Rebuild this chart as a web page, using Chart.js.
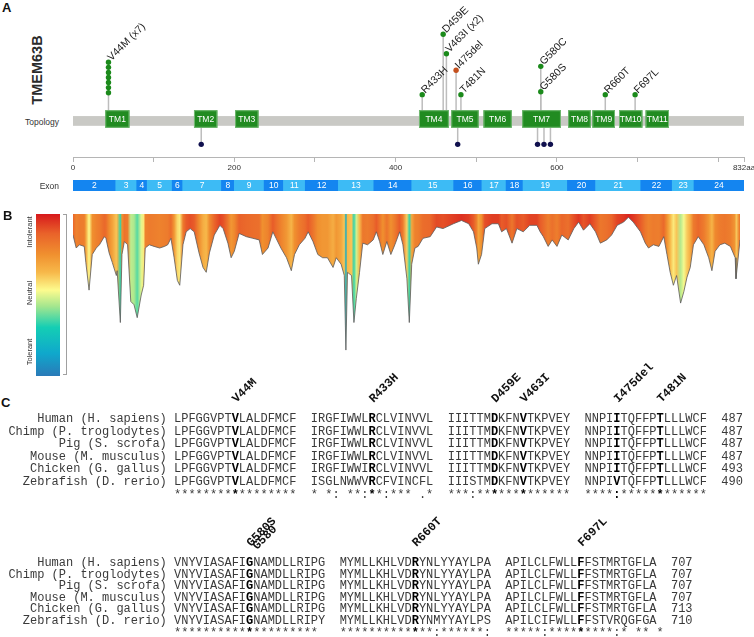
<!DOCTYPE html>
<html>
<head>
<meta charset="utf-8">
<script src="https://cdn.jsdelivr.net/npm/chart.js@4.4.1/dist/chart.umd.min.js"></script>
<style>
  body { margin: 0; background: #fff; }
  #fig { position: relative; width: 754px; height: 637px; overflow: hidden; font-family: "Liberation Sans", Arial, sans-serif; color: #333; }
  #fig > * { position: absolute; }
  .panel { font-weight: bold; font-size: 13px; color: #111; }
  .side { font-size: 8.5px; width: 59px; text-align: right; left: 0; }
  .vlab { width: 60px; left: 0; text-align: center; font-size: 7.5px; line-height: 10px; transform: rotate(-90deg); }
  .aln { font-family: "Liberation Mono", "Courier New", monospace; font-size: 12px; line-height: 12px; white-space: pre; color: #3a3a3a; }
  .aln b { color: #000; }
</style>
</head>
<body>
<div id="fig">
  <div class="panel" style="left:2px;top:0px">A</div>
  <div style="left:-3px;top:62px;width:80px;text-align:center;font-weight:bold;font-size:14.5px;line-height:16px;color:#2a2a2a;transform:rotate(-90deg)">TMEM63B</div>
  <div class="side" style="top:117px">Topology</div>
  <canvas id="topo" width="754" height="178" style="left:0;top:0"></canvas>
  <canvas id="exon" width="754" height="20" style="left:0;top:176px"></canvas>
  <div class="side" style="top:181px">Exon</div>

  <div class="panel" style="left:3px;top:208px">B</div>
  <div id="cbar" style="left:36px;top:214px;width:24px;height:162px"></div>
  <div style="left:63px;top:214px;width:3px;height:159px;border:1.5px solid #a0a0a0;border-left:none"></div>
  <div class="vlab" style="top:227px">Intolerant</div>
  <div class="vlab" style="top:288px">Neutral</div>
  <div class="vlab" style="top:347px">Tolerant</div>
  <canvas id="tol" width="754" height="180" style="left:0;top:205px"></canvas>

  <div class="panel" style="left:1px;top:395px">C</div>
  <canvas id="mlab" width="754" height="280" style="left:0;top:357px"></canvas>
</div>
<script>
// A: topology
const geneLength = 832;
const tmNames = ['TM1', 'TM2', 'TM3', 'TM4', 'TM5', 'TM6', 'TM7', 'TM8', 'TM9', 'TM10', 'TM11'];
const tmStart = [40, 150, 201, 429, 469, 509, 557, 614, 644, 677, 710];
const tmEnd = [70, 179, 230, 466, 503, 544, 605, 642, 672, 706, 739];

const mutLabels = ['V44M (x7)', 'R433H', 'D459E', 'V463I (x2)', 'I475del', 'T481N', 'G580C', 'G580S', 'R660T', 'F697L'];
const mutPos = [44, 433, 459, 463, 475, 481, 580, 580, 660, 697];
const mutHeight = [29, 27, 89, 69, 52, 27, 56, 30, 27, 27];
const mutDots = [7, 1, 1, 1, 1, 1, 1, 1, 1, 1];
const mutKind = ['missense', 'missense', 'missense', 'missense', 'inframe', 'missense', 'missense', 'missense', 'missense', 'missense'];

const lowPos = [159, 477, 576, 584, 592];
const lowHeight = [-24, -24, -24, -24, -24];

const axisTicks = [0, 100, 200, 300, 400, 500, 600, 700, 800, 832];
const axisLabels = ['0', '', '200', '', '400', '', '600', '', '', '832aa'];

const exonNames = ['2', '3', '4', '5', '6', '7', '8', '9', '10', '11', '12', '13', '14', '15', '16', '17', '18', '19', '20', '21', '22', '23', '24'];
const exonBounds = [0, 53, 79, 92, 123, 136, 184, 200, 237, 261, 288, 329, 373, 420, 472, 507, 537, 558, 613, 648, 704, 743, 770, 832];

// B: tolerance landscape (0 = intolerant, 1 = tolerant)
const tolPos = [
  1, 5, 9, 15, 17, 21, 25, 30, 34, 40,
  42, 46, 50, 55, 56, 60, 62, 65, 69, 73,
  77, 81, 86, 89, 91, 96, 102, 109, 115, 119,
  123, 127, 131, 134, 138, 142, 147, 152, 158, 163,
  167, 171, 177, 184, 188, 194, 198, 202, 208, 217,
  225, 233, 237, 244, 250, 254, 260, 267, 273, 277,
  283, 290, 294, 300, 306, 312, 318, 325, 329, 335,
  339, 341, 343, 348, 351, 354, 358, 362, 368, 375,
  379, 383, 387, 392, 397, 402, 408, 412, 417, 420,
  423, 427, 431, 437, 446, 454, 462, 475, 485, 494,
  500, 504, 506, 510, 514, 523, 531, 535, 541, 548,
  554, 562, 570, 579, 583, 587, 593, 598, 604, 610,
  618, 625, 631, 637, 645, 652, 658, 666, 672, 679,
  687, 693, 699, 708, 714, 718, 724, 731, 737, 741,
  745, 749, 753, 758, 762, 766, 770, 774, 780, 787,
  793, 797, 801, 807, 813, 820, 826, 827, 831, 832
];
const tolScore = [
  .13, .21, .19, .20, .30, .47, .25, .21, .19, .14,
  .15, .24, .30, .38, .35, .67, .25, .17, .19, .54,
  .56, .64, .50, .44, .21, .19, .20, .21, .20, .19,
  .15, .27, .41, .44, .19, .11, .09, .11, .24, .33,
  .36, .24, .13, .07, .09, .18, .27, .23, .12, .14,
  .15, .16, .25, .21, .11, .15, .21, .27, .35, .25,
  .19, .15, .11, .17, .25, .27, .27, .33, .27, .31,
  .38, .84, .36, .38, .67, .52, .36, .18, .19, .16,
  .11, .17, .25, .17, .25, .19, .11, .19, .40, .67,
  .31, .21, .20, .15, .14, .08, .09, .06, .04, .06,
  .11, .21, .31, .25, .09, .06, .06, .11, .09, .18,
  .09, .11, .07, .07, .11, .14, .20, .16, .20, .13,
  .16, .09, .05, .10, .06, .11, .18, .16, .13, .07,
  .05, .02, .05, .11, .18, .21, .19, .20, .14, .25,
  .36, .44, .38, .55, .48, .39, .33, .19, .14, .19,
  .27, .35, .23, .19, .18, .20, .27, .40, .21, .16
];

// C: alignment
const species = ['Human (H. sapiens)', 'Chimp (P. troglodytes)', 'Pig (S. scrofa)', 'Mouse (M. musculus)', 'Chicken (G. gallus)', 'Zebrafish (D. rerio)'];
const seqTop = [
  'LPFGGVPTVLALDFMCF IRGFIWWLRCLVINVVL IIITTMDKFNVTKPVEY NNPIITQFFPTLLLWCF',
  'LPFGGVPTVLALDFMCF IRGFIWWLRCLVINVVL IIITTMDKFNVTKPVEY NNPIITQFFPTLLLWCF',
  'LPFGGVPTVLALDFMCF IRGFIWWLRCLVINVVL IIITTMDKFNVTKPVEY NNPIITQFFPTLLLWCF',
  'LPFGGVPTVLALDFMCF IRGFIWWLRCLVINVVL IIITTMDKFNVTKPVEY NNPIITQFFPTLLLWCF',
  'LPFGGVPTVLALDFMCF IRGFIWWIRCLVINVVL IIITTMDKFNVTKPVEY NNPIITQFFPTLLLWCF',
  'LPFGGVPTVLALDFMCF ISGLNWWVRCFVINCFL IIISTMDKFNVTKPVEY NNPIVTQFFPTLLLWCF'
];
const endTop = [487, 487, 487, 487, 493, 490];
const consTop = ['*****************', '* *: **:**:*** .*', '***:*************', '****:************'];
const boldTop = [[0, 8], [1, 8], [2, 6], [2, 10], [3, 4], [3, 10]];
const labTop = ['V44M', 'R433H', 'D459E', 'V463I', 'I475del', 'T481N'];

const seqBot = [
  'VNYVIASAFIGNAMDLLRIPG MYMLLKHLVDRYNLYYAYLPA APILCLFWLLFFSTMRTGFLA',
  'VNYVIASAFIGNAMDLLRIPG MYMLLKHLVDRYNLYYAYLPA APILCLFWLLFFSTMRTGFLA',
  'VNYVIASAFIGNAMDLLRIPG MYMLLKHLVDRYNLYYAYLPA APILCLFWLLFFSTMRTGFLA',
  'VNYVIASAFIGNAMDLLRIPG MYMLLKHLVDRYNLYYAYLPA APILCLFWLLFFSTMRTGFLA',
  'VNYVIASAFIGNAMDLLRIPG MYMLLKHLVDRYNLYYAYLPA APILCLFWLLFFSTMRTGFLA',
  'VNYVIASAFIGNAMDLLRIPY MYMLLKHLVDRYNMYYAYLPS APILCIFWLLFFSTVRQGFGA'
];
const endBot = [707, 707, 707, 707, 713, 710];
const consBot = ['******************** ', '*************:******:', '*****:*********:* ** *'];
const boldBot = [[0, 10], [1, 10], [2, 10]];
const labBot = ['G580S', 'G580', 'R660T', 'F697L'];
const labBotAt = [[0, 10], [0, 10], [1, 10], [2, 10]];

// colour scale of the tolerance landscape
const cmapStops = [[0, '#d7191c'], [0.12, '#e9622a'], [0.25, '#f0902f'], [0.36, '#f7b84a'], [0.47, '#fdfb8e'], [0.57, '#a4e68e'], [0.7, '#14ceb4'], [0.86, '#0fa8cc'], [1, '#2a7ab8']];
const hex = c => [1, 3, 5].map(i => parseInt(c.slice(i, i + 2), 16));
function cmap(v) {
  v = Math.max(0, Math.min(1, v));
  for (let i = 1; i < cmapStops.length; i++) {
    const [t1, c1] = cmapStops[i];
    if (v <= t1) {
      const [t0, c0] = cmapStops[i - 1];
      const f = (v - t0) / (t1 - t0), a = hex(c0), b = hex(c1);
      return 'rgb(' + a.map((q, k) => Math.round(q + (b[k] - q) * f)).join(',') + ')';
    }
  }
  return cmapStops[cmapStops.length - 1][1];
}

const font = '"Liberation Sans", Arial, sans-serif';
const kindColor = { missense: '#1b8a1b', inframe: '#c4501e' };
const stackGap = 5.2;

const upPts = [], upCol = [];
mutPos.forEach((p, i) => {
  for (let k = 0; k < mutDots[i]; k++) {
    upPts.push({ x: p, y: mutHeight[i] + k * stackGap });
    upCol.push(kindColor[mutKind[i]]);
  }
});

const topologyPlugin = {
  id: 'topology',
  beforeDatasetsDraw(chart) {
    const { ctx, scales: { x, y } } = chart;
    ctx.save();
    ctx.strokeStyle = '#bdbdbd';
    ctx.lineWidth = 1.5;
    const stem = (p, h) => {
      ctx.beginPath();
      ctx.moveTo(x.getPixelForValue(p), y.getPixelForValue(0));
      ctx.lineTo(x.getPixelForValue(p), y.getPixelForValue(h));
      ctx.stroke();
    };
    mutPos.forEach((p, i) => stem(p, mutHeight[i] + (mutDots[i] - 1) * stackGap));
    lowPos.forEach((p, i) => stem(p, lowHeight[i]));

    const x0 = x.getPixelForValue(0), x1 = x.getPixelForValue(geneLength);
    ctx.fillStyle = '#c9c9c5';
    ctx.fillRect(x0, y.getPixelForValue(5), x1 - x0, y.getPixelForValue(-5) - y.getPixelForValue(5));

    ctx.font = '8.5px ' + font;
    ctx.textAlign = 'center';
    ctx.textBaseline = 'middle';
    tmNames.forEach((n, i) => {
      const a = x.getPixelForValue(tmStart[i]), b = x.getPixelForValue(tmEnd[i]);
      const t = y.getPixelForValue(11), btm = y.getPixelForValue(-7);
      ctx.fillStyle = '#218b21';
      ctx.fillRect(a, t, b - a, btm - t);
      ctx.strokeStyle = '#72b972';
      ctx.lineWidth = 1;
      ctx.strokeRect(a + 0.5, t + 0.5, b - a - 1, btm - t - 1);
      ctx.fillStyle = '#fff';
      ctx.fillText(n, (a + b) / 2, (t + btm) / 2 + 0.5);
    });
    ctx.restore();
  },
  afterDatasetsDraw(chart) {
    const { ctx, scales: { x, y } } = chart;
    ctx.save();
    ctx.font = '10.5px ' + font;
    ctx.fillStyle = '#222';
    ctx.textAlign = 'left';
    ctx.textBaseline = 'alphabetic';
    mutLabels.forEach((lab, i) => {
      const top = mutHeight[i] + (mutDots[i] - 1) * stackGap;
      ctx.save();
      ctx.translate(x.getPixelForValue(mutPos[i]) + 3, y.getPixelForValue(top) - 1);
      ctx.rotate(-Math.PI / 4);
      ctx.fillText(lab, 0, 0);
      ctx.restore();
    });
    ctx.restore();
  }
};

new Chart(document.getElementById('topo'), {
  type: 'scatter',
  data: {
    datasets: [
      { data: upPts, pointBackgroundColor: upCol, pointBorderWidth: 0, pointRadius: 2.7 },
      { data: lowPos.map((p, i) => ({ x: p, y: lowHeight[i] })), pointBackgroundColor: '#10104e', pointBorderWidth: 0, pointRadius: 2.7 }
    ]
  },
  options: {
    responsive: false, animation: false, devicePixelRatio: 1, events: [],
    layout: { padding: { left: 73, right: 10, top: 0, bottom: 1 } },
    scales: {
      x: {
        type: 'linear', min: 0, max: geneLength, position: 'bottom',
        afterBuildTicks: s => { s.ticks = axisTicks.map(v => ({ value: v })); },
        afterFit: s => { s.height = 20; s.paddingLeft = 0; s.paddingRight = 0; },
        ticks: { autoSkip: false, maxRotation: 0, padding: 1, color: '#333', font: { size: 8, family: font }, callback: (v, i) => axisLabels[i] },
        grid: { drawOnChartArea: false, tickLength: 5, color: '#b5b5b5' },
        border: { color: '#b5b5b5', width: 1 }
      },
      y: { display: false, min: -37, max: 120 }
    },
    plugins: { legend: { display: false }, tooltip: { enabled: false } }
  },
  plugins: [topologyPlugin]
});

// exon track
const exonText = {
  id: 'exonText',
  afterDatasetsDraw(chart) {
    const { ctx } = chart;
    ctx.save();
    ctx.fillStyle = '#fff';
    ctx.font = '8.5px ' + font;
    ctx.textAlign = 'center';
    ctx.textBaseline = 'middle';
    chart.getDatasetMeta(0).data.forEach((bar, i) => {
      const { x, base, y } = bar.getProps(['x', 'base', 'y'], true);
      ctx.fillText(exonNames[i], (x + base) / 2, y + 0.5);
    });
    ctx.restore();
  }
};

new Chart(document.getElementById('exon'), {
  type: 'bar',
  data: {
    labels: ['Exon'],
    datasets: [{
      data: exonNames.map((n, i) => ({ x: [exonBounds[i], exonBounds[i + 1]], y: 'Exon' })),
      backgroundColor: exonNames.map((n, i) => i % 2 ? '#3dbbf5' : '#1485f0'),
      borderWidth: 0, barPercentage: 1, categoryPercentage: 1, grouped: false
    }]
  },
  options: {
    indexAxis: 'y', responsive: false, animation: false, devicePixelRatio: 1, events: [],
    layout: { padding: { left: 73, right: 10, top: 4, bottom: 5 } },
    scales: { x: { type: 'linear', min: 0, max: geneLength, display: false }, y: { display: false } },
    plugins: { legend: { display: false }, tooltip: { enabled: false } }
  },
  plugins: [exonText]
});

// B
document.getElementById('cbar').style.background =
  'linear-gradient(to bottom,' + cmapStops.map(([t, c]) => c + ' ' + (t * 100) + '%').join(',') + ')';

function tolFill(c) {
  const chart = c.chart, a = chart.chartArea;
  if (!a) return null;
  const xs = chart.scales.x;
  const g = chart.ctx.createLinearGradient(a.left, 0, a.right, 0);
  tolPos.forEach((p, i) => {
    const t = (xs.getPixelForValue(p) - a.left) / (a.right - a.left);
    g.addColorStop(Math.max(0, Math.min(1, t)), cmap(tolScore[i]));
  });
  return g;
}

new Chart(document.getElementById('tol'), {
  type: 'line',
  data: {
    datasets: [{
      data: tolPos.map((p, i) => ({ x: p, y: tolScore[i] })),
      borderColor: '#5a5a5a', borderWidth: 0.8, pointRadius: 0, tension: 0,
      fill: { value: 0 }, backgroundColor: tolFill
    }]
  },
  options: {
    responsive: false, animation: false, devicePixelRatio: 1, events: [],
    layout: { padding: { left: 73, right: 14, top: 9, bottom: 9 } },
    scales: {
      x: { type: 'linear', min: 1, max: geneLength, display: false },
      y: { min: 0, max: 1, reverse: true, display: false }
    },
    plugins: { legend: { display: false }, tooltip: { enabled: false } }
  }
});

// C
const fig = document.getElementById('fig');
const alnLeft = 8.4, cw = 7.2;
const labCanvas = document.getElementById('mlab');
const lctx = labCanvas.getContext('2d');
const labTopOffset = 357;

function blockHtml(blocks, boldAt) {
  return blocks.map((b, bi) => b.split('').map((ch, ci) =>
    boldAt.some(([p, q]) => p === bi && q === ci) ? '<b>' + ch + '</b>' : ch).join('')).join('  ');
}
function charIndex(blocks, bi, ci) {
  let n = 0;
  for (let k = 0; k < bi; k++) n += blocks[k].length + 2;
  return n + ci;
}
function addLine(html, top) {
  const el = document.createElement('div');
  el.className = 'aln';
  el.style.left = alnLeft + 'px';
  el.style.top = top + 'px';
  el.innerHTML = html;
  fig.appendChild(el);
}
function drawGroup(seqs, ends, cons, boldAt, labs, labAt, top, step) {
  seqs.forEach((s, r) => {
    addLine(species[r].padStart(22) + ' ' + blockHtml(s.split(' '), boldAt) + '  ' + ends[r], top + r * step);
  });
  addLine(''.padStart(23) + blockHtml(cons, boldAt), top + seqs.length * step);
  const blocks = seqs[0].split(' ');
  lctx.font = 'bold 12px "Liberation Mono", "Courier New", monospace';
  lctx.fillStyle = '#111';
  lctx.textBaseline = 'alphabetic';
  labs.forEach((lab, i) => {
    const [bi, ci] = labAt[i];
    const dup = labAt.slice(0, i).filter(([p, q]) => p === bi && q === ci).length;
    const px = alnLeft + (23 + charIndex(blocks, bi, ci)) * cw + 5 + dup * 6;
    const py = top - 10 + dup * 3 - labTopOffset;
    lctx.save();
    lctx.translate(px, py);
    lctx.rotate(-Math.PI / 4);
    lctx.fillText(lab, 0, 0);
    lctx.restore();
  });
}
drawGroup(seqTop, endTop, consTop, boldTop, labTop, boldTop, 413, 12.6);
drawGroup(seqBot, endBot, consBot, boldBot, labBot, labBotAt, 557, 11.6);
</script>
</body>
</html>
